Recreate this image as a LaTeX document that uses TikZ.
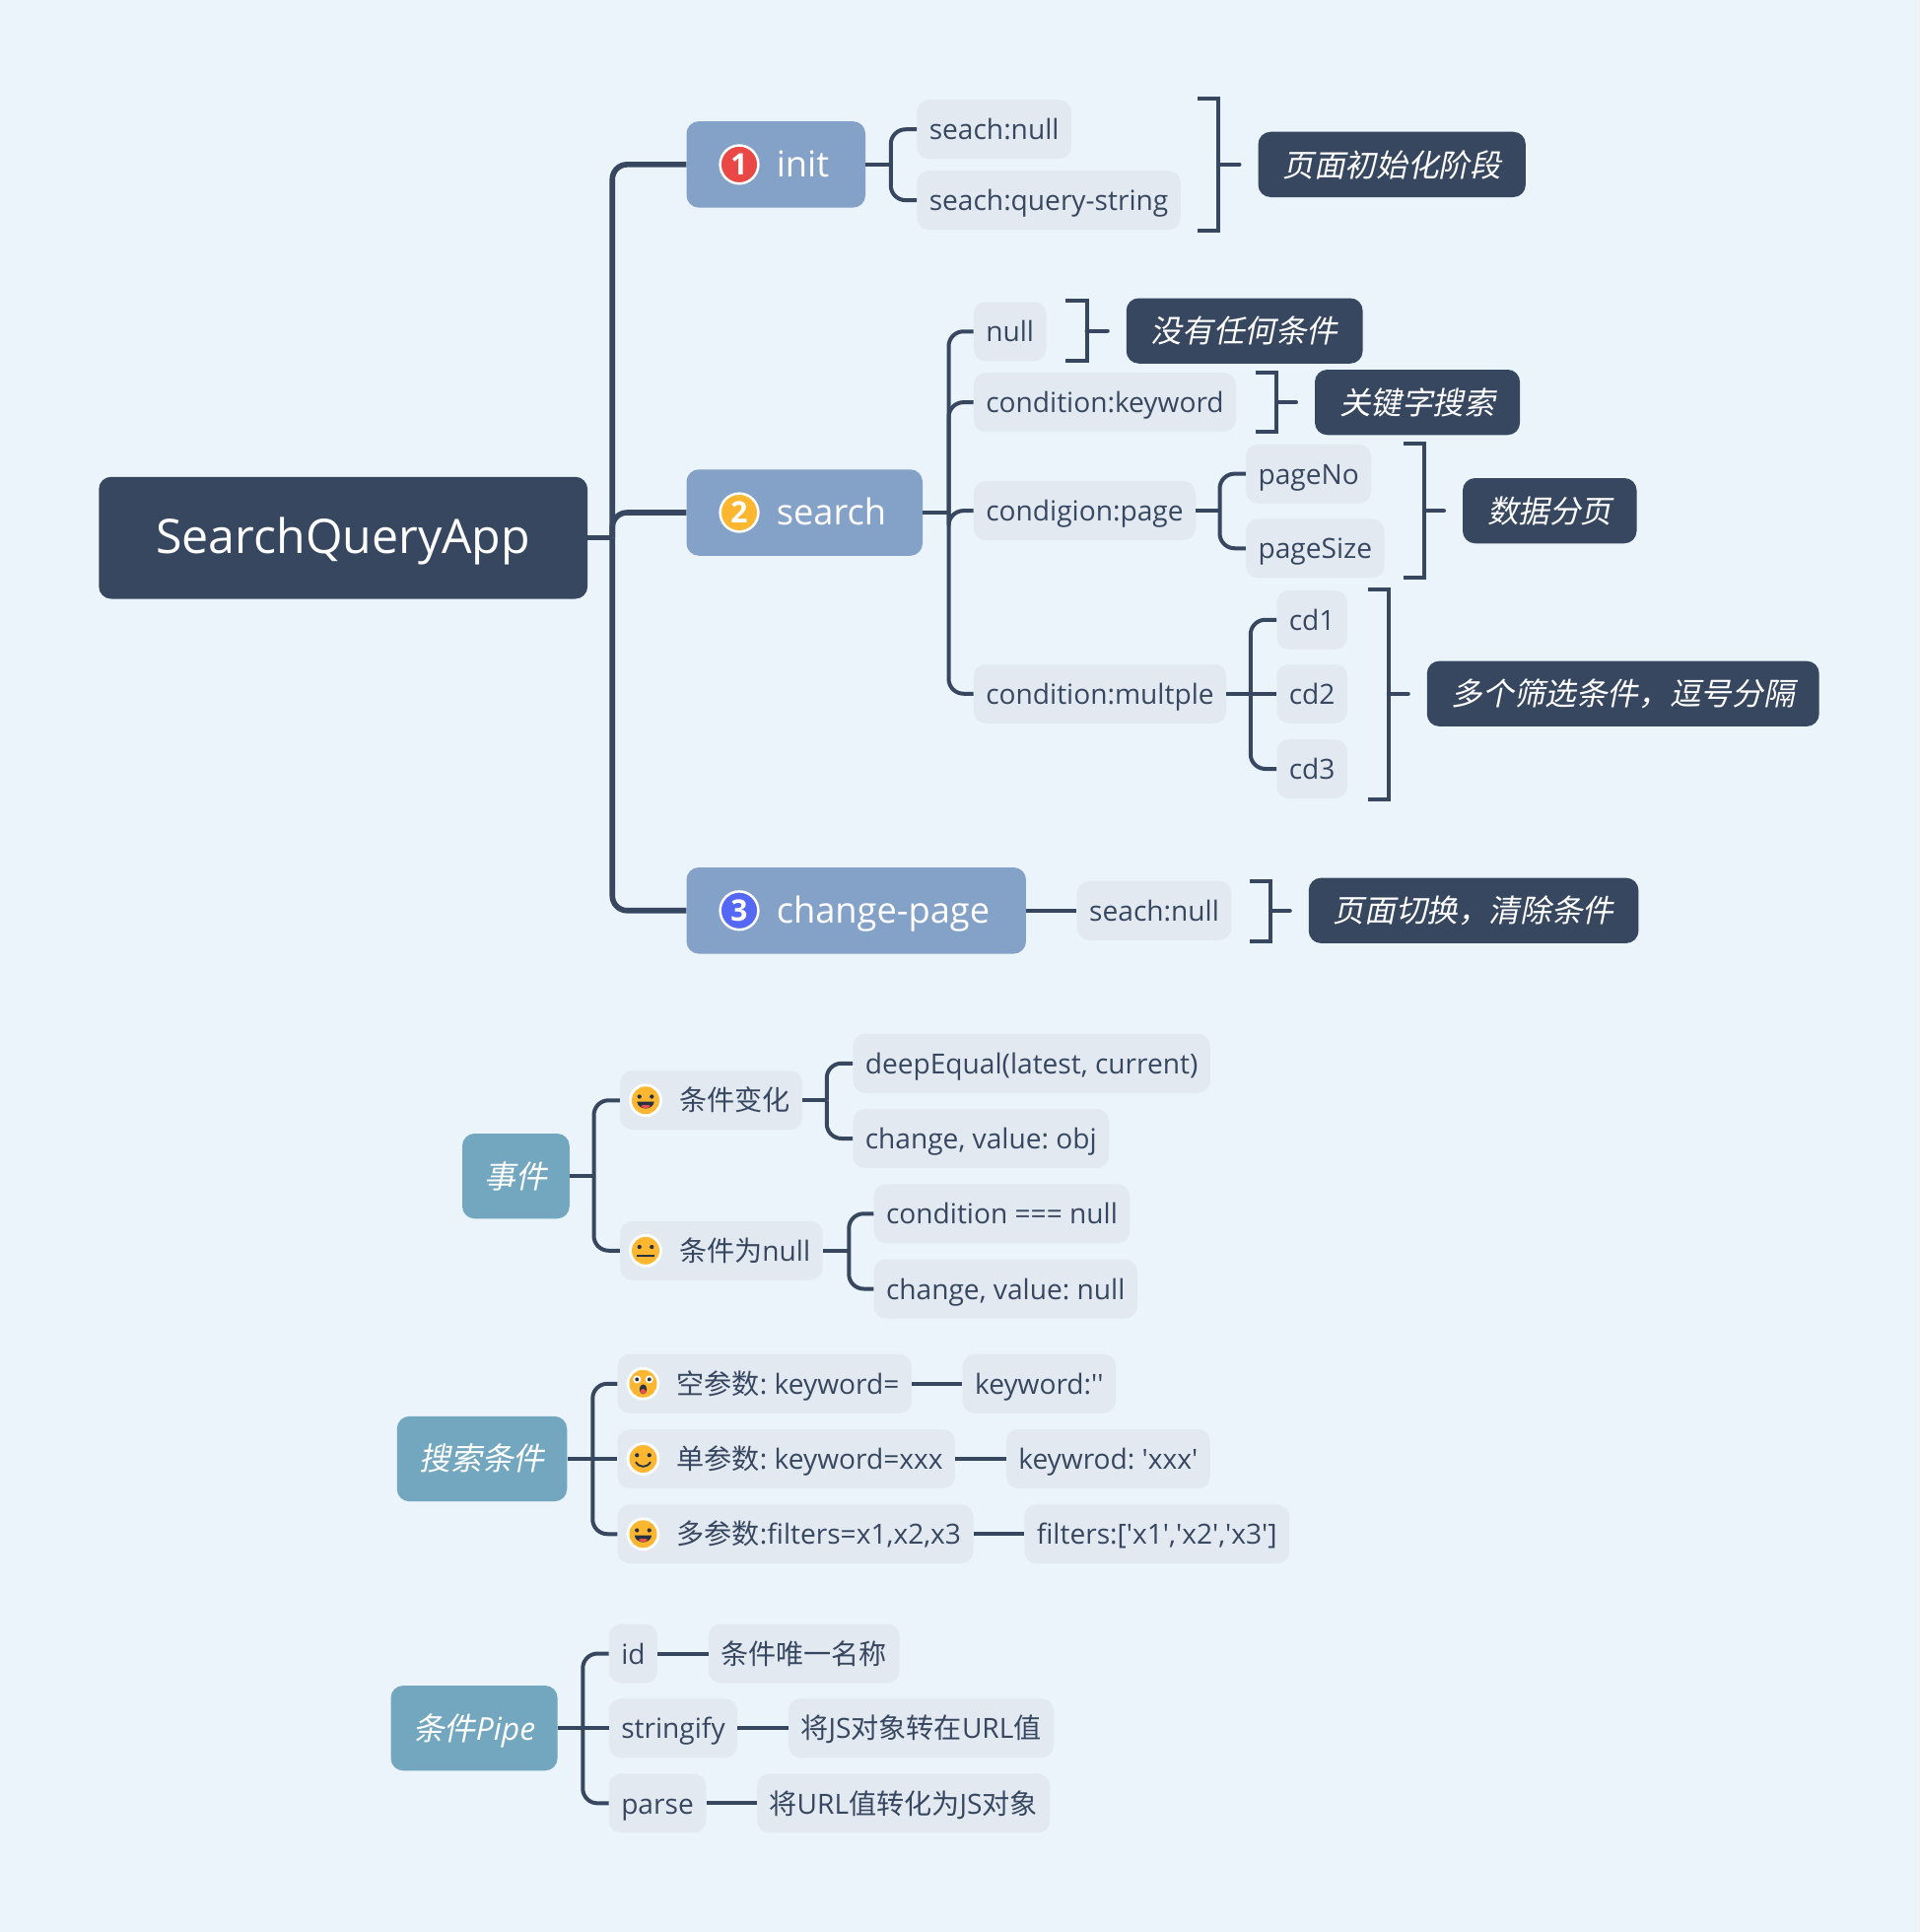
\documentclass[tikz,border=0pt]{standalone}
\usepackage{fontspec}
\usetikzlibrary{positioning,calc}
\newfontfamily\opensans{Open Sans}
\newfontfamily\cjk{Noto Sans CJK SC}
\newfontfamily\cjkit[FakeSlant=0.2]{Noto Sans CJK SC}
\definecolor{pagebg}{HTML}{EBF3FB}
\definecolor{slate}{HTML}{374760}
\definecolor{leafbg}{HTML}{E2E9F1}
\definecolor{mainbg}{HTML}{84A1C8}
\definecolor{sidebg}{HTML}{73A7BF}
\definecolor{smile}{HTML}{FDB62F}
\definecolor{tongue}{HTML}{E8504F}
\definecolor{badgeblue}{HTML}{5468F5}
\tikzset{
  box/.style={anchor=west,rounded corners=10,text depth=4,text height=21},
  rootbox/.style={box,fill=slate,text=white,minimum height=99,inner xsep=46.5,
    font=\opensans\fontsize{38.6}{46}\selectfont,text height=28,text depth=3},
  mainbox/.style={box,fill=mainbg,text=white,minimum height=70,inner xsep=29.5,
    font=\opensans\fontsize{29}{34}\selectfont,text height=24,text depth=4},
  sidebox/.style={box,fill=sidebg,text=white,minimum height=69,inner xsep=18,
    font=\opensans\itshape\fontsize{25.5}{30}\selectfont,text height=23},
  leaf/.style={box,fill=leafbg,text=slate,minimum height=48,inner xsep=10,
    font=\opensans\frenchspacing\fontsize{22.5}{28}\selectfont},
  callout/.style={box,fill=slate,text=white,minimum height=53,inner xsep=20,
    font=\cjkit\fontsize{25.3}{30}\selectfont,text height=24,text depth=4.5},
  badge/.style={circle,draw=white,line width=2,minimum size=31,inner sep=0,text=white,
    font=\opensans\bfseries\fontsize{24}{28}\selectfont},
  wire/.style={draw=slate,line width=3.2},
  trunk/.style={draw=slate,line width=4.5},
  fork/.style={rounded corners=12,to path={|- (\tikztotarget)}},
  facebase/.pic={\fill[white] (0,0) circle (13.5); \fill[smile] (0,0) circle (11.2);},
  eyes/.pic={\fill[slate!70!black] (-5,-3) circle (1.7) (5,-3) circle (1.7);},
  grinface/.pic={\pic {facebase}; \pic {eyes};
    \fill[slate!70!black] (-7,1) -- (7,1) .. controls (6,8.5) and (-6,8.5) .. (-7,1);
    \fill[tongue] (-4,4.5) .. controls (-2,3.5) and (2,3.5) .. (4,4.5) .. controls (2,7) and (-2,7) .. (-4,4.5);},
  flatface/.pic={\pic {facebase}; \pic {eyes};
    \draw[slate!70!black,line width=1.6] (-7,4.5) -- (7,4.5);},
  smileface/.pic={\pic {facebase}; \pic {eyes};
    \draw[slate!70!black,line width=1.5] (-6,2.5) .. controls (-3,7.5) and (3,7.5) .. (6,2.5);},
  wowface/.pic={\pic {facebase};
    \fill[white] (-5,-3.5) circle (3.2) (5,-3.5) circle (3.2);
    \fill[slate!70!black] (-5,-3.5) circle (1.6) (5,-3.5) circle (1.6);
    \fill[slate!70!black] (0,4.5) ellipse (3 and 4);
    \fill[tongue] (0,6.2) ellipse (2.2 and 2);},
}
\newcommand{\sumbrace}[5]{%
  \coordinate (#1a) at (#2,#3);
  \coordinate (#1b) at (#2,#4);
  \draw[wire] (#1a) -- ++(17,0) coordinate (#1c) |- (#1b);
  \draw[wire,line cap=round] (#1c |- #5.west) -- ([xshift=-15]#5.west);
}
\begin{document}
\begin{tikzpicture}[x=1pt,y=-1pt]
\useasboundingbox (0,0) rectangle (1558.4,1568);
\fill[pagebg] (0,0) rectangle (1558.4,1568);

% main tree
\node (root) [rootbox] at (80,436.5) {SearchQueryApp};
\node (init) [mainbox] at (557,133.5) {\hspace*{43.5pt}init};
\node (search) [mainbox] at (557,416) {\hspace*{43.5pt}search};
\node (chpage) [mainbox] at (557,739) {\hspace*{43.5pt}change-page};
\node (badgeA) [badge,fill=tongue!90!red] at ([xshift=43]init.west) {1};
\node (badgeB) [badge,fill=smile] at ([xshift=43]search.west) {2};
\node (badgeC) [badge,fill=badgeblue] at ([xshift=43]chpage.west) {3};
\coordinate (hubroot) at (497,436.5);
\path[trunk]
(root) edge (hubroot)
(hubroot) edge[fork] (init)
(hubroot) edge[fork] (search)
(hubroot) edge[fork] (chpage);

% init
\node (sNull) [leaf] at (744,105) {seach:null};
\node (sQuery) [leaf] at (744,162.5) {seach:query-string};
\coordinate (hubinit) at (723,133.5);
\path[wire]
(init) edge (hubinit)
(hubinit) edge[fork] (sNull)
(hubinit) edge[fork] (sQuery);
\node (noteinit) [callout] at (1021,133.5) {页面初始化阶段};
\sumbrace{brinit}{972}{80}{187}{noteinit}

% search
\node (cNull) [leaf] at (790,269) {null};
\node (cKey) [leaf] at (790,326.5) {condition:keyword};
\node (cPage) [leaf] at (790,414.5) {condigion:page};
\node (cMulti) [leaf] at (790,563) {condition:multple};
\coordinate (hubsearch) at (770,416);
\path[wire]
(search) edge (hubsearch)
(hubsearch) edge[fork] (cNull)
(hubsearch) edge[fork] (cKey)
(hubsearch) edge[fork] (cPage)
(hubsearch) edge[fork] (cMulti);
\node (notenull) [callout] at (914,268.5) {没有任何条件};
\sumbrace{brnull}{865}{244}{293}{notenull}
\node (notekey) [callout] at (1067,326.5) {关键字搜索};
\sumbrace{brkey}{1019}{302}{350}{notekey}

\node (pageNo) [leaf] at (1011,384.5) {pageNo};
\node (pageSize) [leaf] at (1011,445) {pageSize};
\coordinate (hubpage) at (990,414.5);
\path[wire]
(cPage) edge (hubpage)
(hubpage) edge[fork] (pageNo)
(hubpage) edge[fork] (pageSize);
\node (notepage) [callout] at (1187,414.5) {数据分页};
\sumbrace{brpage}{1139}{360}{469}{notepage}

\node (cdA) [leaf] at (1036,503) {cd1};
\node (cdB) [leaf] at (1036,563) {cd2};
\node (cdC) [leaf] at (1036,624) {cd3};
\coordinate (hubmulti) at (1015,563);
\path[wire]
(cMulti) edge (hubmulti)
(hubmulti) edge (cdB)
(hubmulti) edge[fork] (cdA)
(hubmulti) edge[fork] (cdC);
\node (notemulti) [callout] at (1158,563) {多个筛选条件，逗号分隔};
\sumbrace{brmulti}{1110}{478}{649}{notemulti}

% change-page
\node (pNull) [leaf,right=41pt of chpage] {seach:null};
\path[wire] (chpage) edge (pNull);
\node (notepg) [callout] at (1062,739) {页面切换，清除条件};
\sumbrace{brpg}{1014}{715}{764}{notepg}

% events
\node (events) [sidebox] at (375,954.5) {{\cjkit 事件}};
\node (evchange) [leaf] at (503,893) {\hspace*{38pt}{\cjk 条件变化}};
\node (evnull) [leaf] at (503,1015) {\hspace*{38pt}{\cjk 条件为}null};
\pic at ([xshift=21]evchange.west) {grinface};
\pic at ([xshift=21]evnull.west) {flatface};
\coordinate (hubev) at (482,954.5);
\path[wire]
(events) edge (hubev)
(hubev) edge[fork] (evchange)
(hubev) edge[fork] (evnull);
\node (deep) [leaf] at (692,863) {deepEqual(latest, current)};
\node (chobj) [leaf] at (692,924) {change, value: obj};
\coordinate (hubchange) at (671,893);
\path[wire]
(evchange) edge (hubchange)
(hubchange) edge[fork] (deep)
(hubchange) edge[fork] (chobj);
\node (cond) [leaf] at (709,985) {condition === null};
\node (chnull) [leaf] at (709,1046) {change, value: null};
\coordinate (hubevnull) at (689,1015);
\path[wire]
(evnull) edge (hubevnull)
(hubevnull) edge[fork] (cond)
(hubevnull) edge[fork] (chnull);

% search conditions
\node (query) [sidebox] at (322,1184) {{\cjkit 搜索条件}};
\node (qEmpty) [leaf] at (501,1123) {\hspace*{38pt}{\cjk 空参数}: keyword=};
\node (qOne) [leaf] at (501,1184) {\hspace*{38pt}{\cjk 单参数}: keyword=xxx};
\node (qMany) [leaf] at (501,1245) {\hspace*{38pt}{\cjk 多参数}:filters=x1,x2,x3};
\pic at ([xshift=21]qEmpty.west) {wowface};
\pic at ([xshift=21]qOne.west) {smileface};
\pic at ([xshift=21]qMany.west) {grinface};
\coordinate (hubquery) at (481,1184);
\path[wire]
(query) edge (qOne)
(hubquery) edge[fork] (qEmpty)
(hubquery) edge[fork] (qMany);
\node (vEmpty) [leaf,right=41pt of qEmpty] {keyword:''};
\node (vOne) [leaf,right=41pt of qOne] {keywrod: 'xxx'};
\node (vMany) [leaf,right=41pt of qMany] {filters:['x1','x2','x3']};
\path[wire]
(qEmpty) edge (vEmpty)
(qOne) edge (vOne)
(qMany) edge (vMany);

% pipe
\node (pipe) [sidebox] at (317,1402.5) {{\cjkit 条件}Pipe};
\node (pId) [leaf] at (494,1342) {id};
\node (pStr) [leaf] at (494,1402.5) {stringify};
\node (pParse) [leaf] at (494,1463.5) {parse};
\coordinate (hubpipe) at (473,1402.5);
\path[wire]
(pipe) edge (pStr)
(hubpipe) edge[fork] (pId)
(hubpipe) edge[fork] (pParse);
\node (tId) [leaf,right=41pt of pId] {{\cjk 条件唯一名称}};
\node (tStr) [leaf,right=41pt of pStr] {{\cjk 将}JS{\cjk 对象转在}URL{\cjk 值}};
\node (tParse) [leaf,right=41pt of pParse] {{\cjk 将}URL{\cjk 值转化为}JS{\cjk 对象}};
\path[wire]
(pId) edge (tId)
(pStr) edge (tStr)
(pParse) edge (tParse);
\end{tikzpicture}
\end{document}
